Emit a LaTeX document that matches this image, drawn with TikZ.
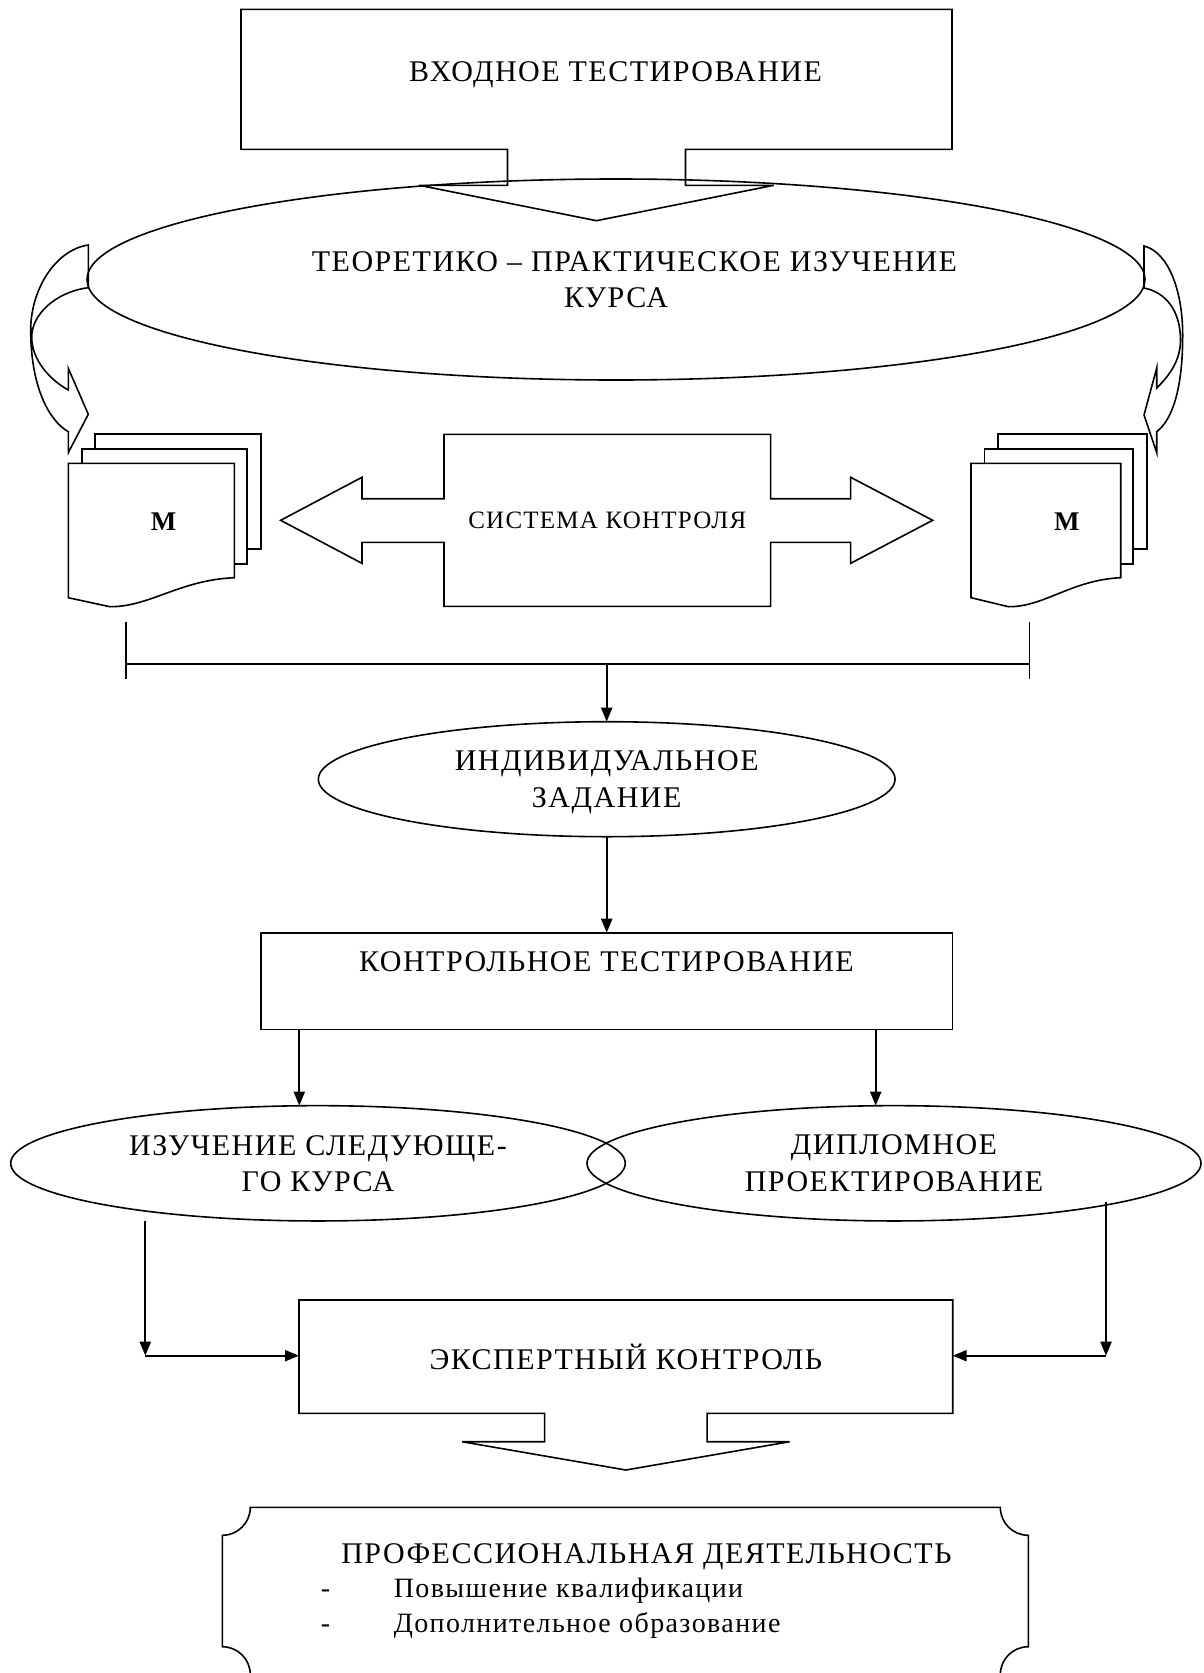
\documentclass[tikz,border=0pt]{standalone}
\usepackage{fontspec}
\setmainfont{Liberation Serif}[LetterSpace=5]
\usetikzlibrary{shapes.geometric, arrows.meta, calc, positioning}

\begin{document}
\begin{tikzpicture}[x=1pt, y=-1pt, >={Triangle[length=14pt,width=11pt]}, line width=1.6pt,
    big/.style={font=\fontsize{30}{36.5}\selectfont},
    block/.style={rectangle, inner sep=0pt, outer sep=0pt, big},
    oval/.style={ellipse, draw, inner sep=0pt, outer sep=0pt, align=center, text depth=0pt, big},
    arr/.style={->, line width=2.2pt}]

      \useasboundingbox (0,0) rectangle (1203,1673);

      \node[block, minimum width=711pt, minimum height=140pt, text height=20pt, text depth=16pt] (entry) at (596.5,79.3) {\hspace*{38pt}ВХОДНОЕ ТЕСТИРОВАНИЕ};
      \draw (entry.north west) -- (entry.north east) -- (entry.south east)
            -- ($(entry.south)+(89,0)$) -- ++(0,36) -- ++(88.3,0)
            -- ($(entry.south)+(0,71.4)$) -- ($(entry.south)+(-177.3,36)$)
            -- ++(88.3,0) -- ($(entry.south)+(-89,0)$) -- (entry.south west) -- cycle;

      \node[oval, minimum width=1058pt, minimum height=201pt] (course) at (616,279.5) {\hspace*{37pt}ТЕОРЕТИКО – ПРАКТИЧЕСКОЕ ИЗУЧЕНИЕ\\КУРСА};

      \draw (88.3,245) .. controls (55,250) and (30.7,290) .. (30.7,330)
            .. controls (30.7,385) and (48,420) .. (68.3,431.7) -- (68.3,452.7) -- (88.3,414.3)
            -- (68.3,368.3) -- (68.3,390) .. controls (50,380) and (31.7,360) .. (31.7,337)
            .. controls (31.7,315) and (55,292) .. (88.3,287.7) -- cycle;
      \draw (1144,246) .. controls (1168,252) and (1182.7,290) .. (1182.7,335)
            .. controls (1182.7,390) and (1172,420) .. (1156.7,431.7) -- (1156.7,452.7) -- (1144,415)
            -- (1156.7,368) -- (1156.7,388) .. controls (1170,375) and (1180.5,360) .. (1180.5,340)
            .. controls (1180.5,310) and (1165,292) .. (1144,288) -- cycle;

      \foreach \x/\w/\m/\n in {68.3/166/0.574/docL, 971/149.7/0.64/docR} {
        \draw (\x,463.3) -- ({\x+\w},463.3) -- ({\x+\w},577.7)
              .. controls ({\x+0.67*\w},580) and ({\x+0.49*\w},607) .. ({\x+0.25*\w},606.7) -- (\x,597.7) -- cycle;
        \draw ({\x+13.5},463.3) |- ({\x+\w+12.4},448.7) |- ({\x+\w},564);
        \draw ({\x+26.7},448.7) |- ({\x+\w+26.4},434) |- ({\x+\w+12.4},548.7);
        \node[font=\fontsize{27}{30}\selectfont\bfseries] (\n) at ({\x+\m*\w},521.7) {М};
      }

      \node[block, font=\fontsize{25}{30}\selectfont, minimum width=326.7pt, minimum height=172pt] (ctrl) at (607.3,520.3) {СИСТЕМА КОНТРОЛЯ};
      \draw (ctrl.north west) -- (ctrl.north east) -- ($(ctrl.east)+(0,-21.6)$) -- ++(80,0) -- ++(0,-21.4)
            -- ($(ctrl.east)+(162,0)$) -- ($(ctrl.east)+(80,43)$) -- ++(0,-21) -- ($(ctrl.east)+(0,22)$)
            -- (ctrl.south east) -- (ctrl.south west) -- ($(ctrl.west)+(0,22)$) -- ++(-82,0) -- ++(0,21)
            -- ($(ctrl.west)+(-163.3,0)$) -- ($(ctrl.west)+(-82,-43)$) -- ++(0,21.4) -- ($(ctrl.west)+(0,-21.6)$) -- cycle;

      \coordinate (brL) at (126,664);
      \coordinate (brR) at (1029.3,664);
      \coordinate (brM) at (606.7,664);
      \draw (brL) -- (brR);
      \draw ($(brL)+(0,-42.3)$) -- ($(brL)+(0,15.3)$);
      \draw ($(brR)+(0,-42.3)$) -- ($(brR)+(0,15.3)$);

      \node[oval, minimum width=576.7pt, minimum height=115pt] (indiv) at (606.7,779.2) {ИНДИВИДУАЛЬНОЕ\\ЗАДАНИЕ};
      \node[block, draw, minimum width=691.6pt, minimum height=96.6pt, text height=20pt, text depth=40pt] (ctest) at (606.5,981) {КОНТРОЛЬНОЕ ТЕСТИРОВАНИЕ};
      \node[oval, minimum width=614.6pt, minimum height=115.3pt, text depth=-7pt] (nextc) at (318,1163.3) {ИЗУЧЕНИЕ СЛЕДУЮЩЕ-\\ГО КУРСА};
      \node[oval, minimum width=614pt, minimum height=115.3pt, text depth=-4pt] (diplom) at (894,1163.3) {ДИПЛОМНОЕ\\ПРОЕКТИРОВАНИЕ};

      \node[block, minimum width=653.7pt, minimum height=113.3pt, text height=26pt, text depth=0pt] (expert) at (625.85,1356.65) {ЭКСПЕРТНЫЙ КОНТРОЛЬ};
      \draw (expert.north west) -- (expert.north east) -- (expert.south east)
            -- ($(expert.south)+(81.3,0)$) -- ++(0,28.4) -- ++(82.5,0)
            -- ($(expert.south)+(0,56.7)$) -- ($(expert.south)+(-163.8,28.4)$)
            -- ++(82.5,0) -- ($(expert.south)+(-81.3,0)$) -- (expert.south west) -- cycle;

      \path ([xshift=-18.7pt]nextc.north) coordinate (nTop)
            ([xshift=-18.3pt]diplom.north) coordinate (dTop);
      \coordinate (jL) at (145.3,1355.7);
      \coordinate (jR) at (1106,1355.7);

      \draw[arr] (brM) -- (brM |- indiv.north);
      \draw[arr] (indiv.south) -- (indiv.south |- ctest.north);
      \draw[arr] (nTop |- ctest.south) -- (nTop);
      \draw[arr] (dTop |- ctest.south) -- (dTop);
      \draw[arr] (jL |- nextc.south) -- (jL);
      \draw[arr] (jL) -- (jL -| expert.west);
      \draw[arr] ($(jR |- diplom.south)+(0,-19.3)$) -- (jR);
      \draw[arr] (jR) -- (jR -| expert.east);

      \draw (250.3,1507.3) -- (1000.3,1507.3) .. controls (1000.3,1522.8) and (1012.8,1535.3) .. (1028.3,1535.3)
            -- (1028.3,1646.7) .. controls (1012.8,1646.7) and (1000.3,1659.2) .. (1000.3,1674.7)
            -- (250.3,1674.7) .. controls (250.3,1659.2) and (237.8,1646.7) .. (222.3,1646.7)
            -- (222.3,1535.3) .. controls (237.8,1535.3) and (250.3,1522.8) .. (250.3,1507.3) -- cycle;
      \node[big, anchor=base west, inner sep=0pt] (prof) at (340.5,1563) {ПРОФЕССИОНАЛЬНАЯ ДЕЯТЕЛЬНОСТЬ};
      \node[font=\fontsize{28}{34}\selectfont, anchor=base west, inner sep=0pt] (profA) at (320,1597) {\makebox[73pt][l]{-}Повышение квалификации};
      \node[font=\fontsize{28}{34}\selectfont, anchor=base west, inner sep=0pt] (profB) at (320,1632) {\makebox[73pt][l]{-}Дополнительное образование};
    \end{tikzpicture}
\end{document}
